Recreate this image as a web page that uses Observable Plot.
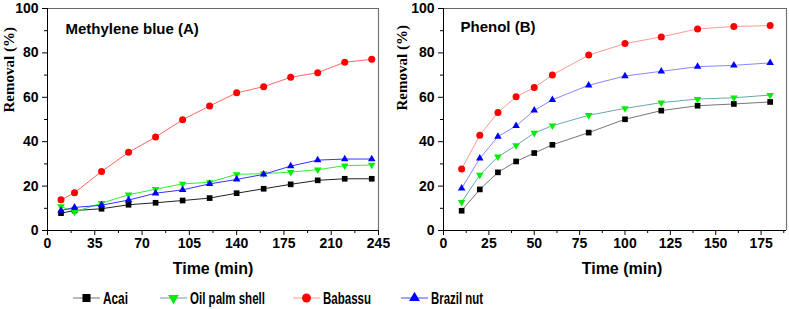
<!DOCTYPE html>
<html>
<head>
<meta charset="utf-8">
<script src="https://cdn.jsdelivr.net/npm/d3@7"></script>
<script src="https://cdn.jsdelivr.net/npm/@observablehq/plot@0.6"></script>
<style>
  html, body { margin: 0; padding: 0; background: #fff; }
  #wrap { width: 789px; height: 309px; position: relative; font-family: "Liberation Sans", Arial, sans-serif; }
  #panels { display: flex; flex-direction: row; }
  #legend { position: relative; height: 29px; width: 789px; }
  .item { position: absolute; top: 0; height: 29px; overflow: visible; }
</style>
</head>
<body>
<div id="wrap">
  <div id="panels"></div>
  <div id="legend"></div>
</div>
<script>
// ---------- data ----------
const seriesNames = ["Acai", "Oil palm shell", "Babassu", "Brazil nut"];

// Panel A: Methylene blue
const timeA = [10, 20, 40, 60, 80, 100, 120, 140, 160, 180, 200, 220, 240];
const acaiA = [7.8, 9.0, 9.8, 11.6, 12.5, 13.5, 14.6, 16.8, 18.8, 20.8, 22.6, 23.3, 23.3];
const oilA  = [10.8, 8.4, 12.3, 16.1, 18.6, 21.0, 21.7, 25.3, 25.6, 26.3, 27.4, 29.2, 29.5];
const babA  = [13.8, 17.0, 26.6, 35.2, 42.1, 49.9, 56.1, 62.0, 64.8, 69.0, 71.1, 75.8, 77.1];
const brazA = [9.0, 10.4, 11.4, 13.7, 16.8, 18.3, 21.0, 23.0, 25.3, 29.0, 31.7, 32.2, 32.2];

// Panel B: Phenol
const timeB = [10, 20, 30, 40, 50, 60, 80, 100, 120, 140, 160, 180];
const acaiB = [8.9, 18.5, 26.2, 31.1, 34.9, 38.6, 44.1, 50.1, 54.0, 56.2, 57.0, 57.9];
const oilB  = [12.8, 25.0, 33.2, 38.3, 43.9, 47.2, 51.9, 55.0, 57.6, 59.2, 59.8, 61.0];
const babB  = [27.7, 42.9, 53.2, 60.2, 64.4, 70.1, 79.0, 84.2, 87.2, 90.8, 91.9, 92.3];
const brazB = [19.0, 32.5, 42.3, 47.1, 54.1, 58.9, 65.4, 69.6, 71.7, 73.8, 74.4, 75.5];

// tick labels
const xTicksA = [0, 35, 70, 105, 140, 175, 210, 245];
const xMinorA = [17.5, 52.5, 87.5, 122.5, 157.5, 192.5, 227.5];
const xTicksB = [0, 25, 50, 75, 100, 125, 150, 175];
const xMinorB = [12.5, 37.5, 62.5, 87.5, 112.5, 137.5, 162.5, 187.5];
const yTicks = [0, 20, 40, 60, 80, 100];
const yMinor = [10, 30, 50, 70, 90];

// ---------- styles ----------
const markerFill = ["#000000", "#00ee00", "#ff0000", "#0000ff"];
const symbols = ["square", "triangle", "circle", "triangle"];
const rotations = [0, 180, 0, 0];
const radii = [3.2, 2.8, 3.5, 2.8];
const lineA = ["#222222", "#33ee33", "#ff6666", "#3333ff"];
const lineB = ["#777777", "#66aaaa", "#ff9999", "#8888ff"];
const legendLine = ["#888888", "#88aaaa", "#ffaaaa", "#6666ff"];

const FONT = "Liberation Sans, Arial, sans-serif";
const SERIF = "Liberation Serif, Times New Roman, serif";

function panel(o) {
  const marks = [];
  const valuesList = o.values;
  valuesList.forEach((vals, k) => {
    const rows = o.times.map((t, i) => ({t, v: vals[i]}));
    marks.push(Plot.line(rows, {x: "t", y: "v", stroke: o.lines[k], strokeWidth: 1}));
  });
  valuesList.forEach((vals, k) => {
    const rows = o.times.map((t, i) => ({t, v: vals[i]}));
    marks.push(Plot.dot(rows, {x: "t", y: "v", symbol: symbols[k], fill: markerFill[k], stroke: "none", r: radii[k], rotate: rotations[k]}));
  });
  return Plot.plot({
    width: o.width,
    height: 280,
    marginLeft: o.marginLeft,
    marginRight: o.marginRight,
    marginTop: 8,
    marginBottom: 50,
    style: {fontFamily: FONT, fontSize: "14px", fontWeight: "bold", color: "#000", background: "#fff"},
    x: {domain: [0, o.xmax]},
    y: {domain: [0, 100]},
    marks: [
      Plot.ruleY([100], {stroke: "#666", strokeWidth: 1.2}),
      Plot.ruleX([o.xmax], {stroke: "#777", strokeWidth: 1.2}),
      Plot.ruleX([0], {stroke: "#000"}),
      Plot.ruleY([0], {stroke: "#000"}),
      Plot.axisX(o.xTicks, {tickSize: 5, tickPadding: 3, label: null, tickFormat: d => String(d)}),
      Plot.axisX(o.xMinor, {tickSize: 3, label: null, tickFormat: () => ""}),
      Plot.axisY(yTicks, {tickSize: 5, tickPadding: 4, label: null}),
      Plot.axisY(yMinor, {tickSize: 3, label: null, tickFormat: () => ""}),
      ...marks,
      Plot.text([o.title], {frameAnchor: "top-left", dx: o.titleDx, dy: o.titleDy, textAnchor: "start", lineAnchor: "middle", fontSize: 15, fontWeight: "bold", fontFamily: FONT}),
      Plot.text(["Time (min)"], {frameAnchor: "bottom", dx: o.xLabelDx, dy: 38, lineAnchor: "middle", fontSize: 16, fontWeight: "bold", fontFamily: FONT}),
      Plot.text(["Removal (%)"], {frameAnchor: "left", dx: o.yLabelDx, dy: o.yLabelDy, rotate: -90, lineAnchor: "middle", fontSize: 15, fontWeight: "bold", fontFamily: SERIF})
    ]
  });
}

const panels = document.getElementById("panels");
panels.appendChild(panel({
  width: 390, marginLeft: 47, marginRight: 12, xmax: 245,
  xTicks: xTicksA, xMinor: xMinorA, times: timeA,
  values: [acaiA, oilA, babA, brazA], lines: lineA,
  title: "Methylene blue (A)", titleDx: 18, titleDy: 21,
  xLabelDx: 0, yLabelDx: -38, yLabelDy: -7
}));
panels.appendChild(panel({
  width: 399, marginLeft: 53, marginRight: 3, xmax: 189,
  xTicks: xTicksB, xMinor: xMinorB, times: timeB,
  values: [acaiB, oilB, babB, brazB], lines: lineB,
  title: "Phenol (B)", titleDx: 17, titleDy: 19,
  xLabelDx: 7, yLabelDx: -41, yLabelDy: -9
}));

// ---------- legend ----------
const legendX = [73, 160, 293, 401];
const legendTextLen = [25, 75, 48, 52];
const legend = document.getElementById("legend");
const sym = {square: d3.symbolSquare, circle: d3.symbolCircle, triangle: d3.symbolTriangle};
seriesNames.forEach((name, k) => {
  const svg = d3.create("svg").attr("width", 150).attr("height", 29).attr("class", "item")
    .style("left", legendX[k] + "px");
  svg.append("line").attr("x1", 0).attr("x2", 27).attr("y1", 18).attr("y2", 18)
    .attr("stroke", legendLine[k]).attr("stroke-width", 1.2);
  const size = [52, 40, 50, 40][k];
  svg.append("path").attr("d", d3.symbol(sym[symbols[k]], size * 1.25)())
    .attr("transform", `translate(13.5,18) rotate(${rotations[k]})`)
    .attr("fill", markerFill[k]);
  svg.append("text").attr("x", 30).attr("y", 18).attr("dy", "0.36em")
    .attr("font-family", FONT).attr("font-weight", "bold").attr("font-size", 17)
    .attr("textLength", legendTextLen[k]).attr("lengthAdjust", "spacingAndGlyphs")
    .text(name);
  legend.appendChild(svg.node());
});
</script>
</body>
</html>
